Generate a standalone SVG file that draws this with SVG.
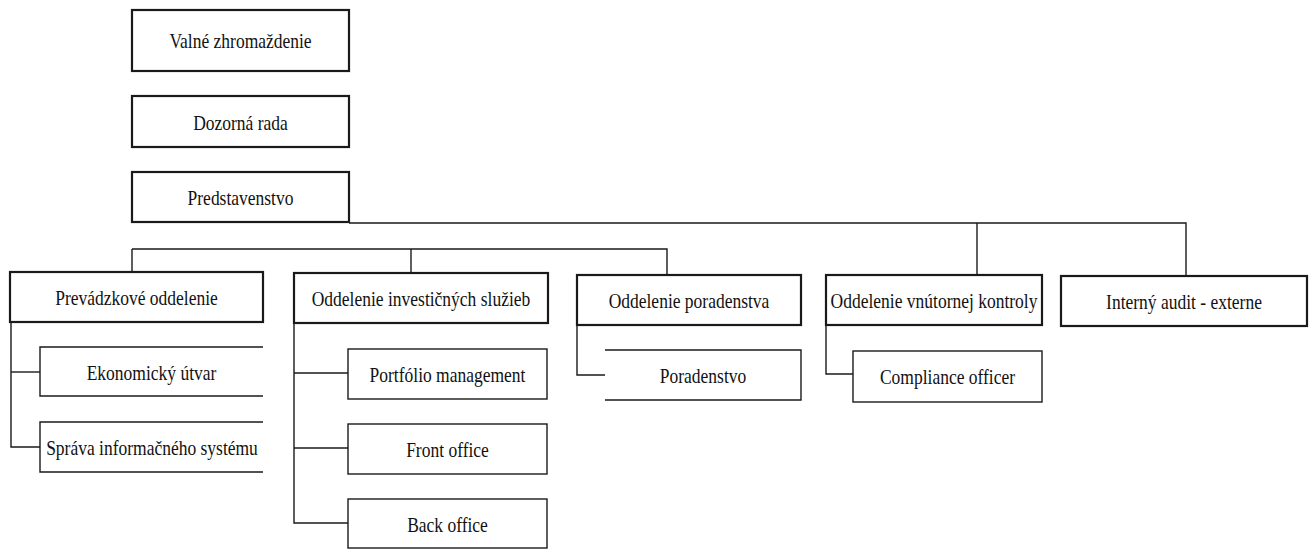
<svg xmlns="http://www.w3.org/2000/svg" width="1312" height="549" viewBox="0 0 1312 549">
<style>
.bg{fill:#ffffff}
.head{fill:#ffffff;stroke:#1a1a1a;stroke-width:2.2}
.sub{fill:#ffffff;stroke:#1a1a1a;stroke-width:1.4}
.open{fill:none;stroke:#1a1a1a;stroke-width:1.4}
.conn{fill:none;stroke:#1a1a1a;stroke-width:1.4}
.t{font-size:17.5px;fill:#111;text-anchor:middle}
</style>
<rect class="bg" x="0" y="0" width="1312" height="549"/>
<g id="connectors">
<path class="conn" d="M349 223 H1186 V276"/>
<path class="conn" d="M977 223 V275"/>
<path class="conn" d="M132 249 H667 V275"/>
<path class="conn" d="M132 249 V272"/>
<path class="conn" d="M411 249 V273"/>
<path class="conn" d="M11 322 V447 H40"/>
<path class="conn" d="M11 372 H40"/>
<path class="conn" d="M294 323 V523 H348"/>
<path class="conn" d="M294 373 H348"/>
<path class="conn" d="M294 448 H348"/>
<path class="conn" d="M577 325 V375 H605"/>
<path class="conn" d="M826 325 V374 H853"/>
</g>
<g id="nodes" font-family="'Liberation Serif', 'DejaVu Serif', 'Times New Roman', serif">
<g id="valne">
<rect class="head" x="132" y="10" width="217" height="61"/>
<text class="t" transform="translate(240.5,48) scale(1,1.18)">Valné zhromaždenie</text>
</g>
<g id="dozorna">
<rect class="head" x="132" y="96" width="217" height="51"/>
<text class="t" transform="translate(240.5,130) scale(1,1.18)">Dozorná rada</text>
</g>
<g id="predstavenstvo">
<rect class="head" x="132" y="172" width="217" height="50"/>
<text class="t" transform="translate(240.5,205) scale(1,1.18)">Predstavenstvo</text>
</g>
<g id="prevadzkove">
<rect class="head" x="10" y="272" width="253" height="50"/>
<text class="t" transform="translate(136.5,305) scale(1,1.18)">Prevádzkové oddelenie</text>
</g>
<g id="ekonomicky">
<path class="open" d="M263 347 H40 V396 H263"/>
<text class="t" transform="translate(151.5,380) scale(1,1.18)">Ekonomický útvar</text>
</g>
<g id="sprava">
<path class="open" d="M263 422 H40 V472 H263"/>
<text class="t" transform="translate(152,455) scale(1,1.18)">Správa informačného systému</text>
</g>
<g id="investicnych">
<rect class="head" x="294" y="273" width="254" height="50"/>
<text class="t" transform="translate(421,306) scale(1,1.18)">Oddelenie investičných služieb</text>
</g>
<g id="portfolio">
<rect class="sub" x="348" y="349" width="199" height="50"/>
<text class="t" transform="translate(447.5,382) scale(1,1.18)">Portfólio management</text>
</g>
<g id="front">
<rect class="sub" x="348" y="424" width="199" height="50"/>
<text class="t" transform="translate(447.5,457) scale(1,1.18)">Front office</text>
</g>
<g id="back">
<rect class="sub" x="348" y="499" width="199" height="49"/>
<text class="t" transform="translate(447.5,532) scale(1,1.18)">Back office</text>
</g>
<g id="poradenstva">
<rect class="head" x="577" y="275" width="224" height="50"/>
<text class="t" transform="translate(689,308) scale(1,1.18)">Oddelenie poradenstva</text>
</g>
<g id="poradenstvo">
<path class="open" d="M605 350 H801 V400 H605"/>
<text class="t" transform="translate(703,383) scale(1,1.18)">Poradenstvo</text>
</g>
<g id="kontroly">
<rect class="head" x="826" y="275" width="216" height="50"/>
<text class="t" transform="translate(934,308) scale(1,1.18)">Oddelenie vnútornej kontroly</text>
</g>
<g id="compliance">
<rect class="sub" x="853" y="351" width="189" height="51"/>
<text class="t" transform="translate(947.5,384) scale(1,1.18)">Compliance officer</text>
</g>
<g id="audit">
<rect class="head" x="1061" y="276" width="246" height="50"/>
<text class="t" transform="translate(1184,309) scale(1,1.18)">Interný audit - externe</text>
</g>
</g>
</svg>
